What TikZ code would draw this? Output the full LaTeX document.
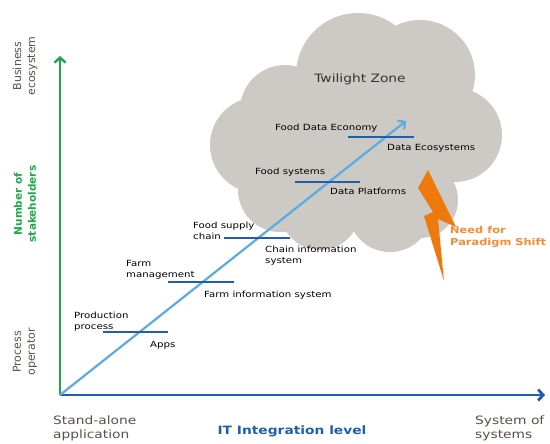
\documentclass[tikz,border=0pt]{standalone}
\usepackage{fontspec}
\setmainfont[FakeStretch=1.2]{DejaVu Sans}
\newfontfamily\sidefont{DejaVu Sans}
\usetikzlibrary{arrows.meta}
\definecolor{axisgreen}{RGB}{30,168,74}
\definecolor{axisblue}{RGB}{31,95,168}
\definecolor{diagblue}{RGB}{92,170,226}
\definecolor{itemblue}{RGB}{31,95,168}
\definecolor{cloudgray}{RGB}{205,201,197}
\definecolor{boltorange}{RGB}{238,122,14}
\definecolor{shiftorange}{RGB}{245,140,50}
\definecolor{labelgray}{RGB}{90,80,70}

\begin{document}
\begin{tikzpicture}
[x=1pt,y=-1pt,
itemline/.style={draw=itemblue,line width=1.4pt},
itemtext/.style={inner sep=0pt,align=left,font=\fontsize{8.5}{11}\selectfont},
sidelabel/.style={rotate=90,inner sep=0pt,align=center,text=labelgray,
font=\sidefont\fontsize{11}{14}\selectfont},
bottomlabel/.style={inner sep=0pt,align=left,text=labelgray,
font=\fontsize{11.5}{14}\selectfont},
axisarrow/.style={-{Straight Barb[length=5pt,width=11pt]}}
]
\useasboundingbox (0,0) rectangle (550,444);
% twilight zone cloud
\begin{scope}[cloudgray]
\fill (358,75) circle[radius=62];
\fill (285,110) circle[radius=45];
\fill (258,145) circle[radius=48];
\fill (280,190) circle[radius=42];
\fill (320,210) circle[radius=40];
\fill (390,210) circle[radius=42];
\fill (420,200) circle[radius=38];
\fill (455,135) circle[radius=47];
\fill (420,75) circle[radius=55];
\fill (360,150) circle[radius=75];
\end{scope}
\node [font=\fontsize{11.5}{13}\selectfont,text=black!80] (twilight) at (360,79) {Twilight Zone};
% lightning
\fill [boltorange] (428,170) -- (456,227) -- (438,219) -- (444,281) --
(424,216) -- (433,212) -- (418,188) -- cycle;
\node [anchor=base west,inner sep=0pt,align=left,text=shiftorange,
font=\bfseries\fontsize{9.5}{13}\selectfont] (shift) at (450,246)
{Need for\\Paradigm Shift};
% axes
\coordinate (O) at (60,395);
\coordinate (ytop) at (60,56);
\coordinate (xend) at (545,395);
\coordinate (dtop) at (406,121);
\draw [axisarrow,axisgreen,line width=2.4pt] (O) -- (ytop);
\draw [axisarrow,axisblue,line width=2.8pt] (O) -- (xend);
\draw [axisarrow,diagblue,line width=2.2pt] (O) -- (dtop);
% axis labels
\node [sidelabel] (business) at (25,66) {Business\\ecosystem};
\node [sidelabel,text=axisgreen,font=\sidefont\bfseries\fontsize{10.5}{14}\selectfont]
(stakeholders) at (25,204) {Number of\\stakeholders};
\node [sidelabel] (operator) at (25,352) {Process\\operator};
\node [bottomlabel,anchor=north west] (standalone) at (53,416) {Stand-alone\\application};
\node [bottomlabel,anchor=base,text=axisblue,font=\bfseries\fontsize{11.5}{14}\selectfont]
(itlevel) at (292,434) {IT Integration level};
\node [bottomlabel,anchor=north west] (sos) at (475,416) {System of\\systems};
% stages along the diagonal
\coordinate (L1a) at (103,332); \coordinate (L1b) at (168,332);
\coordinate (L2a) at (168,282); \coordinate (L2b) at (234,282);
\coordinate (L3a) at (224,238); \coordinate (L3b) at (290,238);
\coordinate (L4a) at (295,182); \coordinate (L4b) at (360,182);
\coordinate (L5a) at (348,137); \coordinate (L5b) at (414,137);
\foreach \i in {1,...,5}
\draw [itemline] (L\i a) -- (L\i b);
\node [itemtext,anchor=south west] (production) at (74,331) {Production\\process};
\node [itemtext,anchor=base west] (apps) at (150,347) {Apps};
\node [itemtext,anchor=south west] (farm) at (126,279) {Farm\\management};
\node [itemtext,anchor=base west] (farminfo) at (204,297) {Farm information system};
\node [itemtext,anchor=south west] (supply) at (193,240) {Food supply\\chain};
\node [itemtext,anchor=north west] (chaininfo) at (265,246) {Chain information\\system};
\node [itemtext,anchor=base west] (foodsys) at (255,175) {Food systems};
\node [itemtext,anchor=base west] (platforms) at (330,194) {Data Platforms};
\node [itemtext,anchor=base west] (economy) at (275,131) {Food Data Economy};
\node [itemtext,anchor=base west] (ecosystems) at (387,150) {Data Ecosystems};
\end{tikzpicture}
\end{document}
